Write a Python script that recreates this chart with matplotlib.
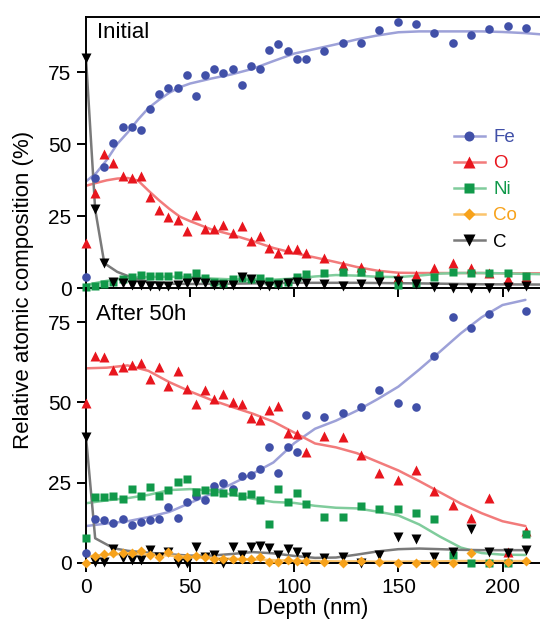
import numpy as np
import matplotlib
matplotlib.use("Agg")
import matplotlib.pyplot as plt
from matplotlib.lines import Line2D

plt.rcParams['font.family'] = ['Liberation Sans', 'DejaVu Sans']

# depth of each measured point (nm), same for both panels
depth = [0, 4.4, 8.8, 13.2, 17.6, 22, 26.4, 30.8, 35.2, 39.6, 44, 48.4, 52.8, 57.2,
         61.6, 66, 70.4, 74.8, 79.2, 83.6, 88, 92.4, 96.8, 101.2, 105.6,
         114.4, 123.2, 132, 140.8, 149.6, 158.4, 167.2, 176, 184.8, 193.6, 202.4, 211.2]

# ---- Initial ----
fe_init = [3.8, 38.1, 42.1, 50.5, 55.8, 55.9, 54.9, 62.2, 67.4, 69.5, 69.5, 74.0, 66.6,
           73.9, 76.0, 74.8, 76.0, 70.4, 77.1, 76.0, 82.7, 84.8, 82.4, 79.6, 79.6,
           82.4, 85.0, 85.1, 89.6, 92.4, 91.7, 88.4, 85.2, 87.8, 89.8, 90.9, 90.4]
o_init = [15.7, 33.1, 46.5, 43.5, 38.9, 38.3, 38.9, 31.7, 27.1, 24.5, 23.6, 19.9, 25.3,
          20.6, 20.4, 21.8, 19.2, 21.5, 16.4, 18.1, 13.8, 12.3, 13.4, 13.4, 12.3,
          10.3, 8.0, 7.4, 5.1, 3.9, 4.5, 6.8, 8.8, 6.8, 5.1, 3.0, 3.7]
ni_init = [0.5, 0.7, 1.4, 2.2, 3.0, 3.7, 4.5, 4.2, 4.2, 4.2, 4.5, 3.9, 5.1, 3.4, 2.2,
           1.8, 3.0, 3.4, 3.0, 3.4, 2.5, 1.8, 2.2, 3.9, 4.9,
           5.3, 5.7, 5.7, 4.5, 1.0, 1.6, 3.9, 5.7, 5.1, 5.1, 5.1, 4.2]
c_init = [79.7, 27.3, 8.6, 2.2, 1.6, 1.0, 1.0, 0.7, 0.7, 0.7, 1.0, 1.6, 2.2, 1.6, 1.0,
          1.0, 1.0, 3.7, 3.0, 1.0, 0.7, 1.0, 1.6, 2.2, 1.8,
          1.4, 0.7, 1.4, 2.2, 2.5, 1.4, 0.5, 0, 0, 0, 0.5, 0.7]

# smoothed trend lines
fit_x_init = [0, 5, 10, 15, 20, 25, 30, 35, 40, 45, 50, 60, 70, 80, 90, 100, 110, 120,
              130, 140, 150, 160, 170, 180, 190, 200, 211, 218]
fe_init_fit = [37, 40, 44.5, 50, 54, 58.5, 62.5, 65.3, 67.8, 69.7, 71.0, 72.7, 74.2, 76.1,
               78.8, 81.4, 83.0, 84.6, 86.3, 87.7, 88.8, 89.1, 89.1, 89.1, 89.1, 88.9, 88.5, 88.1]
o_init_fit = [35.5, 36.5, 37.4, 38.0, 38.2, 37.3, 33.8, 30.5, 27.5, 24.8, 23.2, 20.4, 18.5,
              16.3, 13.9, 12.1, 10.6, 9.0, 7.3, 6.0, 5.3, 5.2, 5.2, 5.2, 5.2, 5.1, 5.1, 5.1]
ni_init_fit = [1.0, 1.8, 2.5, 3.0, 3.4, 3.7, 3.8, 3.9, 3.9, 3.9, 3.8, 3.3, 3.0, 2.9, 2.9,
               3.3, 4.0, 4.5, 4.3, 3.9, 3.8, 4.3, 5.0, 5.2, 5.2, 5.1, 4.9, 4.8]
c_init_fit_x = [0, 4.4, 8.8, 15, 20, 25, 30, 40, 50, 70, 100, 130, 160, 190, 218]
c_init_fit = [79.7, 27.3, 8.6, 5.6, 4.2, 3.0, 2.2, 1.5, 1.4, 1.5, 1.8, 1.8, 1.6, 1.3, 1.2]

# ---- After 50h ----
fe_50h = [3.0, 13.6, 13.4, 12.4, 13.7, 11.8, 12.9, 13.4, 13.7, 17.4, 13.9, 18.9, 21.0,
          19.6, 24.1, 25.0, 23.0, 27.1, 27.4, 29.4, 36.2, 28.1, 36.2, 34.7, 46.1,
          45.4, 46.8, 48.5, 53.7, 49.7, 48.5, 64.5, 76.5, 73.1, 77.5, np.nan, 78.4]
o_50h = [49.9, 64.3, 64.0, 60.1, 61.0, 61.7, 62.4, 57.2, 61.0, 55.2, 59.8, 54.1, 49.4,
         53.7, 51.0, 52.6, 50.1, 49.5, 45.1, 44.5, 47.7, 48.9, 40.6, 40.2, 34.4,
         39.6, 39.3, 33.6, 27.9, 25.9, 29.0, 22.5, 18.1, 13.9, 20.2, 3.5, 10.0]
ni_50h = [7.7, 20.5, 20.4, 21.0, 19.8, 23.0, 20.9, 23.8, 20.9, 22.7, 25.3, 26.2, 22.2,
          22.7, 22.2, 21.7, 22.2, 21.0, 21.5, 19.6, 12.1, 23.0, 18.9, 21.9, 18.3,
          14.2, 14.4, 17.8, 16.7, 16.7, 15.7, 13.6, 2.5, 0, 0, 0, 9.0]
co_50h = [0, 2.2, 2.7, 3.2, 3.0, 3.2, 3.7, 2.5, 1.8, 3.5, 2.0, 1.8, 2.2, 2.0, 1.2, 1.2,
          1.4, 1.2, 1.4, 2.0, 0.4, 0.4, 0.9, 0.7, 0.7,
          0.3, 0, 0.7, 0.2, 0, 0, 0, 0, 3.0, 0, 0.3, 0.6]
c_50h = [39.3, 0.2, 0.4, 4.3, 1.5, 0.9, 0.9, 4.0, 2.0, 3.5, 0, 0, 4.9, 2.0, 2.5, 0,
         4.9, 2.5, 5.1, 5.3, 4.6, 2.5, 4.3, 3.5, 2.0,
         1.5, 2.0, 0, 2.5, 8.2, 7.4, 2.0, 3.5, 10.5, 3.5, 3.0, 4.0]

fit_x_50h = [0, 10, 20, 30, 40, 50, 60, 70, 80, 90, 100, 110, 120, 130, 140, 150, 160,
             170, 180, 190, 200, 211]
fe_50h_fit = [11.5, 12.3, 13.0, 14.3, 15.9, 18.7, 21.5, 24.6, 27.8, 31.3, 37.3, 41.8, 44.3,
              47.4, 51.0, 54.9, 60.2, 65.8, 71.5, 76.5, 80.3, 81.9]
o_50h_fit = [60.6, 60.8, 61.5, 59.8, 56.3, 53.4, 50.8, 48.6, 46.5, 44.0, 40.6, 37.2, 36.0,
             34.2, 31.5, 28.8, 25.5, 22.0, 18.5, 15.5, 13.0, 11.5]
ni_50h_fit = [18.6, 19.5, 20.2, 21.2, 22.7, 23.0, 22.6, 21.3, 20.0, 19.0, 18.7, 17.8, 17.2,
              17.0, 16.0, 14.8, 12.0, 8.2, 4.8, 3.1, 2.6, 2.5]
co_50h_fit = [2.0, 2.6, 2.9, 2.7, 2.3, 1.9, 1.5, 1.3, 1.1, 0.9, 0.7, 0.6, 0.5, 0.5, 0.4,
              0.4, 0.5, 0.5, 0.6, 0.6, 0.6, 0.6]
c_50h_fit_x = [0, 4.4, 13.2, 20, 30, 40, 50, 60, 70, 80, 90, 100, 110, 120, 130, 140, 150,
               160, 170, 180, 190, 200, 211]
c_50h_fit = [39.3, 7.7, 4.6, 3.8, 3.2, 2.7, 2.3, 2.3, 2.8, 3.4, 3.0, 2.2, 1.6, 1.7, 2.6,
             3.6, 4.3, 4.5, 4.3, 4.1, 4.0, 4.0, 4.0]

labels = ['Fe', 'O', 'Ni', 'Co', 'C']
mcol = {'Fe': '#4150a8', 'O': '#e8161e', 'Ni': '#11994a', 'Co': '#f7a21b', 'C': '#000000'}
lcol = {'Fe': '#9da1d8', 'O': '#f27b7b', 'Ni': '#80cc9c', 'Co': '#fbc46c', 'C': '#7a7a7a'}
mk = {'Fe': ('o', 6.2), 'O': ('^', 7.2), 'Ni': ('s', 5.8), 'Co': ('D', 5.6), 'C': ('v', 7.0)}
zo = {'Fe': 4, 'O': 5, 'Ni': 6, 'C': 7, 'Co': 8}

fig = plt.figure(figsize=(5.4, 6.21), dpi=100)
ax1 = fig.add_axes([86 / 540, 1 - 288 / 621, 454 / 540, 271 / 621])
ax2 = fig.add_axes([86 / 540, 1 - 563 / 621, 454 / 540, 275 / 621])


def draw(ax, el, y, fx, fy):
    ax.plot(fx, fy, color=lcol[el], lw=1.8, zorder=2, solid_capstyle='round')
    m, s = mk[el]
    ax.plot(depth, y, ls='none', marker=m, ms=s, color=mcol[el], mec='none',
            zorder=zo[el], clip_on=False)


draw(ax1, 'Fe', fe_init, fit_x_init, fe_init_fit)
draw(ax1, 'O', o_init, fit_x_init, o_init_fit)
draw(ax1, 'Ni', ni_init, fit_x_init, ni_init_fit)
draw(ax1, 'C', c_init, c_init_fit_x, c_init_fit)

draw(ax2, 'Fe', fe_50h, fit_x_50h, fe_50h_fit)
draw(ax2, 'O', o_50h, fit_x_50h, o_50h_fit)
draw(ax2, 'Ni', ni_50h, fit_x_50h, ni_50h_fit)
draw(ax2, 'C', c_50h, c_50h_fit_x, c_50h_fit)
draw(ax2, 'Co', co_50h, fit_x_50h, co_50h_fit)

for ax, top in ((ax1, 94.1), (ax2, 85.6)):
    ax.set_facecolor('none')
    ax.set_xlim(0, 218)
    ax.set_ylim(0, top)
    ax.set_xticks([0, 50, 100, 150, 200])
    ax.set_yticks([0, 25, 50, 75])
    ax.spines['right'].set_visible(False)
    for sp in ax.spines.values():
        sp.set_linewidth(1.4)
    ax.tick_params(direction='out', length=6.5, width=1.4, labelsize=15, pad=4)

ax2.spines['top'].set_visible(False)
ax1.tick_params(axis='x', labelbottom=False)
ax2.set_xlabel('Depth (nm)', fontsize=16, labelpad=1)
fig.text(24 / 540, 1 - 290 / 621, 'Relative atomic composition (%)', rotation=90,
         ha='center', va='center', fontsize=16)

ax1.text(0.024, 0.941, 'Initial', transform=ax1.transAxes, fontsize=16, va='center')
ax2.text(0.022, 0.905, 'After 50h', transform=ax2.transAxes, fontsize=16, va='center')

handles = [Line2D([], [], color=lcol[el], lw=1.8, marker=mk[el][0], ms=mk[el][1] + 1,
                  mfc=mcol[el], mec='none') for el in labels]
leg = ax1.legend(handles, labels, loc='upper left', bbox_to_anchor=(454 / 540, 0.7923),
                 bbox_transform=fig.transFigure, frameon=False, borderpad=0,
                 borderaxespad=0, handlelength=1.65, handletextpad=0.45,
                 labelspacing=0.48, fontsize=13.5)
for t, el in zip(leg.get_texts(), labels):
    t.set_color(mcol[el])

fig.savefig('out.png', dpi=100)
